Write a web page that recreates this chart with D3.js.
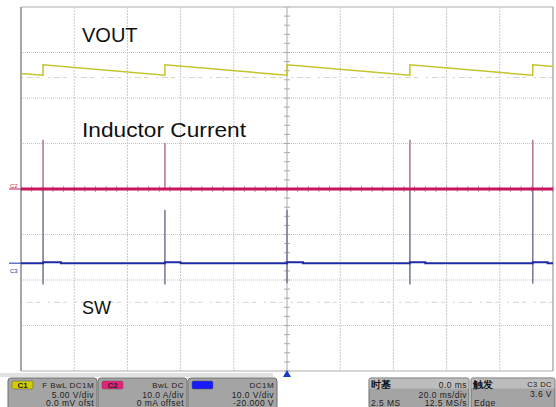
<!DOCTYPE html>
<html><head><meta charset="utf-8">
<script src="https://cdn.jsdelivr.net/npm/d3@7"></script>
<style>body{margin:0;background:#fff}svg{display:block}text{font-family:"Liberation Sans",Arial,sans-serif}</style>
</head><body>
<svg id="c" width="556" height="407"></svg>
<script>
// time in ms (20 ms/div, 10 div), vertical in divisions (8 div)
const voutTimes  = [-100, -91.7, -91.7, -45.9, -45.9, 0, 0, 46.2, 46.2, 92.4, 92.4, 100];
const voutValues = [2.54, 2.50, 2.73, 2.50, 2.73, 2.50, 2.73, 2.50, 2.73, 2.50, 2.73, 2.69];
const currentTimes  = [-100, 100];
const currentValues = [0, 0];
const currentSpikeTimes = [-91.7, -45.9, 46.2, 92.4];
const currentSpikeTops  = [1.08, 1.01, 1.08, 1.08];
const swTimes  = [-100, -91.7, -91.7, -85, -85, -45.9, -45.9, -40, -40, 0, 0, 6, 6, 46.2, 46.2, 52, 52, 92.4, 92.4, 98, 98, 100];
const swValues = [-1.63, -1.63, -1.61, -1.61, -1.63, -1.63, -1.61, -1.61, -1.63, -1.63, -1.61, -1.61, -1.63, -1.63, -1.61, -1.61, -1.63, -1.63, -1.61, -1.61, -1.63, -1.63];
const swSpikeTimes = [-91.7, -45.9, 0, 46.2, 92.4];
const swSpikeTops  = [0, -0.46, -0.46, 0, 0];
const swSpikeBottoms = [-2.1, -2.1, -2.07, -2.1, -2.08];
const labels = [["VOUT", 3.23, 20, null], ["Inductor Current", 1.14, 21, 164], ["SW", -2.74, 18, null]];
const chanPanels = [
  {badge:"C1", color:"#d4cc00", head:"F  BwL  DC1M", l2:"5.00 V/div", l3:"0.0 mV ofst"},
  {badge:"C2", color:"#e8207c", head:"BwL  DC", l2:"10.0 A/div", l3:"0 mA offset"},
  {badge:"C3", color:"#1a1aff", head:"DC1M", l2:"10.0 V/div", l3:"-20.000 V"}
];
const timebase = {head:"时基", val:"0.0 ms", l2:"20.0 ms/div", l3a:"2.5 MS", l3b:"12.5 MS/s"};
const trigger = {head:"触发", val:"C3  DC", l2:"3.6 V", l3:"Edge"};

const svg = d3.select("#c");
const x = d3.scaleLinear().domain([-100, 100]).range([21, 553]);
const y = d3.scaleLinear().domain([-4, 4]).range([371, 7]);

// grid
const g = svg.append("g");
g.selectAll(".vg").data(d3.range(-80, 100, 20).filter(v=>v!==0)).join("line")
  .attr("x1", d=>x(d)).attr("x2", d=>x(d)).attr("y1", y(4)).attr("y2", y(-4))
  .attr("stroke", "#c8c8c8").attr("stroke-width", 1).attr("stroke-dasharray", "2,1");
g.selectAll(".hg").data(d3.range(-3, 4, 1).filter(v=>v!==0)).join("line")
  .attr("x1", x(-100)).attr("x2", x(100)).attr("y1", d=>y(d)).attr("y2", d=>y(d))
  .attr("stroke", "#c4c4c4").attr("stroke-width", 1).attr("stroke-dasharray", "1,1");
// reference dashes
[2.45, -2.49].forEach(v => {
  g.append("line").attr("x1", x(-100)).attr("x2", x(100)).attr("y1", y(v)).attr("y2", y(v))
    .attr("stroke", "#d6d6d6").attr("stroke-dasharray", "2,4,6,3,4,8");
});
// center axes with minor ticks
g.append("line").attr("x1", x(0)).attr("x2", x(0)).attr("y1", y(4)).attr("y2", y(-4)).attr("stroke", "#aaa");
g.append("line").attr("x1", x(-100)).attr("x2", x(100)).attr("y1", y(0)).attr("y2", y(0)).attr("stroke", "#aaa");
g.selectAll(".mty").data(d3.range(-4, 4.01, 0.2)).join("line")
  .attr("x1", x(0)-3).attr("x2", x(0)+3).attr("y1", d=>y(d)).attr("y2", d=>y(d)).attr("stroke", "#aaa");
g.selectAll(".mtx").data(d3.range(-100, 100.1, 4)).join("line")
  .attr("x1", d=>x(d)).attr("x2", d=>x(d)).attr("y1", y(0)-3).attr("y2", y(0)+3).attr("stroke", "#aaa");
// border
svg.append("line").attr("x1", x(-100)).attr("x2", x(100)).attr("y1", y(4)).attr("y2", y(4)).attr("stroke", "#c8c8c8").attr("stroke-width", 1.5);
svg.append("line").attr("x1", x(-100)).attr("x2", x(-100)).attr("y1", y(4)).attr("y2", y(-4)).attr("stroke", "#8a8a8a").attr("stroke-width", 1.5);
svg.append("line").attr("x1", x(100)).attr("x2", x(100)).attr("y1", y(4)).attr("y2", y(-4)).attr("stroke", "#9a9a9a").attr("stroke-width", 1.2);
svg.append("line").attr("x1", x(-100)).attr("x2", x(100)).attr("y1", y(-4)).attr("y2", y(-4)).attr("stroke", "#b0b0b0").attr("stroke-width", 1.2);

const line = d3.line().x(d=>x(d[0])).y(d=>y(d[1]));
// SW spikes
svg.selectAll(".sws").data(swSpikeTimes).join("line")
  .attr("x1", d=>x(d)).attr("x2", d=>x(d)).attr("y1", (d,i)=>y(swSpikeTops[i])).attr("y2", (d,i)=>y(swSpikeBottoms[i]))
  .attr("stroke", "#7c7c98").attr("stroke-width", 1.6);
// current spikes
svg.selectAll(".cs").data(currentSpikeTimes).join("line")
  .attr("x1", d=>x(d)).attr("x2", d=>x(d)).attr("y1", (d,i)=>y(currentSpikeTops[i])).attr("y2", y(0))
  .attr("stroke", "#b97a98").attr("stroke-width", 1.6);
// traces
svg.append("path").datum(voutTimes.map((t,i)=>[t, voutValues[i]])).attr("d", line)
  .attr("fill", "none").attr("stroke", "#c4c42a").attr("stroke-width", 1.5);
svg.append("path").datum(currentTimes.map((t,i)=>[t, currentValues[i]])).attr("d", line)
  .attr("fill", "none").attr("stroke", "#c8145c").attr("stroke-width", 3);
svg.append("path").datum(swTimes.map((t,i)=>[t, swValues[i]])).attr("d", line)
  .attr("fill", "none").attr("stroke", "#1c2ca6").attr("stroke-width", 2);

// labels
svg.selectAll(".lbl").data(labels).join("text")
  .attr("x", 82).attr("y", d=>y(d[1])).attr("font-size", d=>d[2]).attr("fill", "#111")
  .each(function(d){ if (d[3]) d3.select(this).attr("textLength", d[3]).attr("lengthAdjust", "spacingAndGlyphs"); })
  .text(d=>d[0]);

// channel markers
svg.append("text").attr("x", 10).attr("y", y(0)-1).attr("font-size", 6).attr("fill", "#c8145c").text("C2");
svg.append("line").attr("x1", 9).attr("x2", 21).attr("y1", y(0)).attr("y2", y(0)).attr("stroke", "#c8145c").attr("stroke-width", 1);
svg.append("text").attr("x", 10).attr("y", y(-1.85)).attr("font-size", 6).attr("fill", "#1c2ca6").text("C3");
svg.append("line").attr("x1", 9).attr("x2", 21).attr("y1", y(-1.63)).attr("y2", y(-1.63)).attr("stroke", "#1c2ca6").attr("stroke-width", 1);

// position bar and trigger marker
svg.append("rect").attr("x", 0).attr("y", 373).attr("width", 273).attr("height", 4).attr("fill", "#e2e2e2");
svg.append("path").attr("d", `M${x(0)-4},377 L${x(0)},370 L${x(0)+4},377 Z`).attr("fill", "#1a3cc8");

// bottom panels
const px = [8, 98, 188];
const fs = 8.5;
const ls = 0.45;
chanPanels.forEach((p, i) => {
  const gx = svg.append("g").attr("transform", `translate(${px[i]},378)`);
  gx.append("rect").attr("width", 89).attr("height", 32).attr("rx", 3).attr("fill", "#a4a4a4").attr("stroke", "#6e6e6e");
  gx.append("rect").attr("x", 4).attr("y", 3).attr("width", 21).attr("height", 8).attr("rx", 1.5).attr("fill", p.color).attr("stroke", "#555").attr("stroke-width", 0.5);
  gx.append("text").attr("x", 14.5).attr("y", 10).attr("text-anchor", "middle").attr("font-size", 8).attr("font-weight", "bold").attr("fill", i===2?"#1a1aff":"#222").text(p.badge);
  gx.append("text").attr("x", 86).attr("y", 9.5).attr("text-anchor", "end").attr("font-size", 8).attr("letter-spacing", ls).attr("fill", "#1e1e1e").text(p.head);
  gx.append("text").attr("x", 86).attr("y", 19.5).attr("text-anchor", "end").attr("font-size", fs).attr("letter-spacing", ls).attr("fill", "#1e1e1e").text(p.l2);
  gx.append("text").attr("x", 86).attr("y", 28).attr("text-anchor", "end").attr("font-size", fs).attr("letter-spacing", ls).attr("fill", "#1e1e1e").text(p.l3);
});
{
  const gx = svg.append("g").attr("transform", "translate(369,378)");
  gx.append("rect").attr("width", 100).attr("height", 32).attr("rx", 2).attr("fill", "#a4a4a4").attr("stroke", "#6e6e6e");
  gx.append("rect").attr("x", 0.5).attr("y", 0.5).attr("width", 99).attr("height", 10).attr("fill", "#bdbdbd");
  gx.append("text").attr("x", 2).attr("y", 9.5).attr("font-size", 9.5).attr("font-weight", "bold").attr("font-family", "Noto Sans CJK SC").attr("fill", "#111").text(timebase.head);
  gx.append("text").attr("x", 98).attr("y", 9.5).attr("text-anchor", "end").attr("font-size", fs).attr("letter-spacing", ls).attr("fill", "#1e1e1e").text(timebase.val);
  gx.append("text").attr("x", 98).attr("y", 19.5).attr("text-anchor", "end").attr("font-size", fs).attr("letter-spacing", ls).attr("fill", "#1e1e1e").text(timebase.l2);
  gx.append("text").attr("x", 2).attr("y", 28).attr("font-size", fs).attr("letter-spacing", ls).attr("fill", "#1e1e1e").text(timebase.l3a);
  gx.append("text").attr("x", 98).attr("y", 28).attr("text-anchor", "end").attr("font-size", fs).attr("letter-spacing", ls).attr("fill", "#1e1e1e").text(timebase.l3b);
}
{
  const gx = svg.append("g").attr("transform", "translate(471,378)");
  gx.append("rect").attr("width", 84).attr("height", 32).attr("rx", 2).attr("fill", "#a4a4a4").attr("stroke", "#6e6e6e");
  gx.append("rect").attr("x", 0.5).attr("y", 0.5).attr("width", 83).attr("height", 10).attr("fill", "#bdbdbd");
  gx.append("text").attr("x", 2).attr("y", 9.5).attr("font-size", 9.5).attr("font-weight", "bold").attr("font-family", "Noto Sans CJK SC").attr("fill", "#111").text(trigger.head);
  gx.append("text").attr("x", 81).attr("y", 9).attr("text-anchor", "end").attr("font-size", 7.5).attr("letter-spacing", ls).attr("fill", "#1e1e1e").text(trigger.val);
  gx.append("text").attr("x", 81).attr("y", 19).attr("text-anchor", "end").attr("font-size", fs).attr("letter-spacing", ls).attr("fill", "#1e1e1e").text(trigger.l2);
  gx.append("text").attr("x", 3).attr("y", 28).attr("font-size", fs).attr("letter-spacing", ls).attr("fill", "#1e1e1e").text(trigger.l3);
}
</script>
</body></html>
